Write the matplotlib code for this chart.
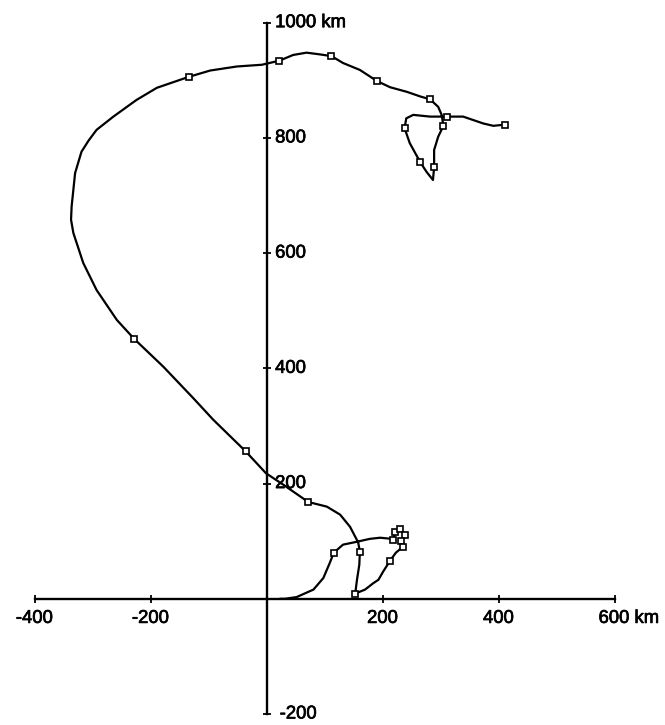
import matplotlib
matplotlib.use("Agg")
import matplotlib.pyplot as plt
import matplotlib.patheffects as pe

plt.rcParams['font.family'] = ['Liberation Sans', 'DejaVu Sans']

# Track (km east, km north)
track_x = [23, 32, 52, 81, 98, 109, 116, 132, 156, 178, 196, 216,
           218, 222, 230, 239, 232, 235, 223, 213, 201, 193, 184, 170, 153,
           156, 160, 161, 158, 144, 127, 104, 72, 29, -1, -36, -92, -126, -178,
           -228, -258, -293, -316, -333, -337, -336, -330, -319, -307, -293, -264,
           -224, -189, -134, -97, -51, -8, 22, 46, 69, 92, 112, 132, 161, 190, 213,
           242, 265, 282, 296, 302, 305, 296, 289, 289, 287, 276, 265, 247, 238,
           241, 253, 282, 311, 339, 374, 391, 411]
track_y = [0, 0, 3, 16, 36, 62, 80, 94, 99, 104, 106, 104,
           102, 116, 121, 111, 101, 90, 80, 66, 47, 33, 27, 16, 9,
           33, 59, 82, 98, 125, 146, 160, 168, 198, 218, 256, 311, 348, 403,
           451, 484, 536, 583, 635, 658, 681, 739, 776, 795, 814, 837,
           866, 887, 906, 917, 924, 927, 934, 944, 948, 945, 942, 930, 918, 899, 888,
           880, 872, 867, 854, 840, 821, 802, 779, 749, 727, 741, 758, 791, 817,
           834, 840, 837, 837, 837, 825, 821, 823]

# Square markers along the track
marker_x = [116, 218, 222, 230, 239, 232, 235, 213, 153, 161, 72, -36, -228,
            -134, 22, 112, 190, 282, 305, 289, 265, 238, 311, 411]
marker_y = [80, 102, 116, 121, 111, 101, 90, 66, 9, 82, 168, 256, 451,
            906, 934, 942, 899, 867, 821, 749, 758, 817, 837, 823]

x_ticks = [-400, -200, 200, 400, 600]
x_labels = ['-400', '-200', '200', '400', '600 km']
y_ticks = [-200, 200, 400, 600, 800, 1000]
y_labels = ['-200', '200', '400', '600', '800', '1000 km']

W, H = 665, 725
fig = plt.figure(figsize=(W / 100, H / 100), dpi=100)
ax = fig.add_axes([34.5 / W, 11 / H, 580 / W, 691.3 / H])
ax.set_xlim(-400, 600)
ax.set_ylim(-200, 1000)

for s in ['top', 'right']:
    ax.spines[s].set_visible(False)
for s in ['left', 'bottom']:
    ax.spines[s].set_position(('data', 0))
    ax.spines[s].set_linewidth(1.7)
    ax.spines[s].set_color('black')

ax.set_xticks(x_ticks)
ax.set_yticks(y_ticks)
ax.tick_params(direction='inout', length=6, width=1.3, labelbottom=False,
               labelleft=False, colors='black')

fs = 13.3
thick = [pe.withStroke(linewidth=0.5, foreground='black')]
for v, lab in zip(x_ticks, x_labels):
    if lab.endswith('km'):
        ax.annotate(lab, (v, 0), xytext=(-11.5, -8), textcoords='offset points',
                    ha='left', va='top', fontsize=fs, path_effects=thick)
    else:
        ax.annotate(lab, (v, 0), xytext=(0, -8), textcoords='offset points',
                    ha='center', va='top', fontsize=fs, path_effects=thick)
for v, lab in zip(y_ticks, y_labels):
    dx = 9.5 if v < 0 else 6.2
    ax.annotate(lab, (0, v), xytext=(dx, 0), textcoords='offset points',
                ha='left', va='center', fontsize=fs, path_effects=thick)

ax.plot(track_x, track_y, color='black', lw=1.6, solid_joinstyle='round',
        solid_capstyle='round', zorder=3)
ax.plot(marker_x, marker_y, linestyle='none', marker='s', markersize=5,
        markerfacecolor='white', markeredgecolor='black', markeredgewidth=1.2, zorder=4)

fig.savefig('out.png', dpi=100, facecolor='white')
